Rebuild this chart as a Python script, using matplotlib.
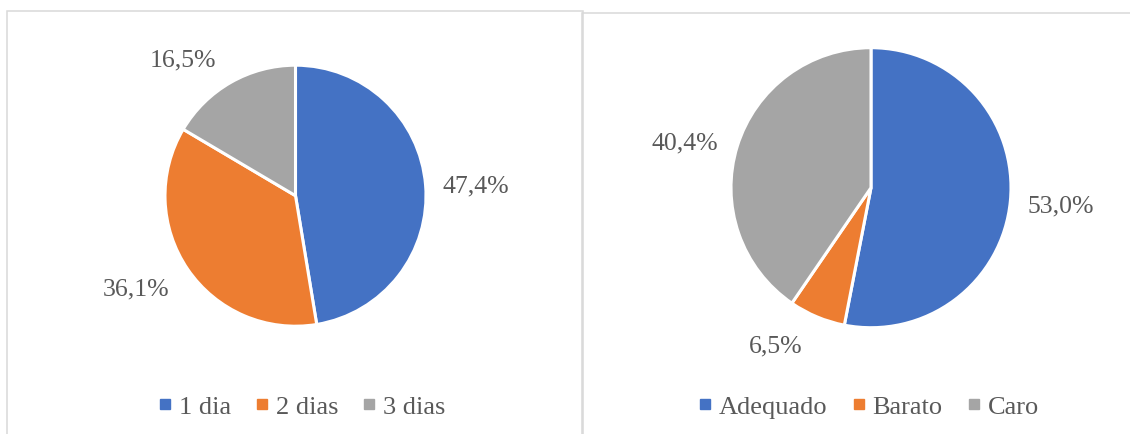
import matplotlib.pyplot as plt
from matplotlib.lines import Line2D
from matplotlib.patches import Rectangle

# data
dias_labels = ['1 dia', '2 dias', '3 dias']
dias_values = [47.4, 36.1, 16.5]
preco_labels = ['Adequado', 'Barato', 'Caro']
preco_values = [53.0, 6.5, 40.4]

colors = ['#4472C4', '#ED7D31', '#A5A5A5']
text_color = '#595959'
font = ['Liberation Serif', 'DejaVu Serif']
fs = 18.5
leg_fs = 19

# label offsets from pie centre, in radius units (Excel "best fit" placement)
dias_label_xy = [(1.383, 0.077), (-1.222, -0.707), (-0.862, 1.047)]
preco_label_xy = [(1.354, -0.129), (-0.679, -1.129), (-1.331, 0.324)]

W, H = 1130, 435
fig = plt.figure(figsize=(W / 100, H / 100), dpi=100, facecolor='white')

# panel borders (extend past the bottom/right edge like the screenshot)
border = '#D9D9D9'
fig.patches.append(Rectangle((7 / W, -0.1), (583 - 7) / W, 1 - 12 / H + 0.1,
                             transform=fig.transFigure, fill=False,
                             edgecolor=border, linewidth=1.1, clip_on=False))
fig.patches.append(Rectangle((582 / W, -0.1), (W + 20 - 582) / W, 1 - 14 / H + 0.1,
                             transform=fig.transFigure, fill=False,
                             edgecolor=border, linewidth=1.1, clip_on=False))


def draw_pie(x0, x1, cx, cy, r, values, labels, label_xy, leg_cx, leg_cy):
    ax = fig.add_axes([x0 / W, 0, (x1 - x0) / W, 1])
    ax.pie(values, colors=colors, startangle=90, counterclock=False,
           wedgeprops=dict(edgecolor='white', linewidth=2.2))
    for v, (dx, dy) in zip(values, label_xy):
        ax.text(dx, dy, f'{v:.1f}%'.replace('.', ','), ha='center', va='center',
                fontsize=fs, color=text_color, family=font)
    ax.set_xlim((x0 - cx) / r, (x1 - cx) / r)
    ax.set_ylim(-(H - cy) / r, cy / r)
    ax.set_aspect('equal', adjustable='datalim')
    ax.axis('off')
    handles = [Line2D([], [], marker='s', ls='', color=c, markersize=6.8)
               for c in colors]
    leg = ax.legend(handles, labels, loc='center', ncol=3,
                    bbox_to_anchor=(leg_cx / W, 1 - leg_cy / H),
                    bbox_transform=fig.transFigure, frameon=False,
                    prop=dict(family=font, size=leg_fs), handlelength=0.45,
                    handletextpad=0.3, columnspacing=0.95, borderpad=0)
    for t in leg.get_texts():
        t.set_color(text_color)
    return ax


draw_pie(8, 582, 295.5, 196.7, 130.5, dias_values, dias_labels,
         dias_label_xy, 302, 407)
draw_pie(583, 1128, 871, 188.7, 140, preco_values, preco_labels,
         preco_label_xy, 869, 407)

fig.savefig('out.png', dpi=100, facecolor='white')
